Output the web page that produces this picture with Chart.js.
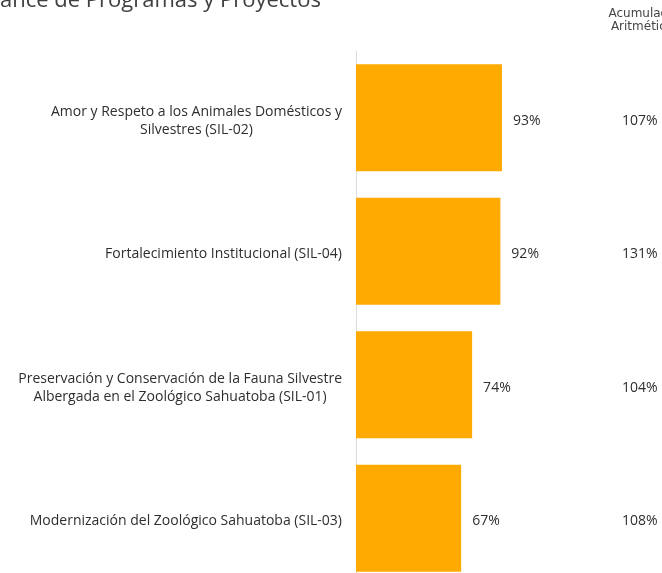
<!DOCTYPE html>
<html>
<head>
<meta charset="utf-8">
<script src="https://cdn.jsdelivr.net/npm/chart.js@4"></script>
<style>
  html, body { margin: 0; padding: 0; background: #fff; overflow: hidden; }
</style>
</head>
<body>
<canvas id="avanceChart" width="662" height="600"></canvas>
<script>
// datos del gráfico
const titulo = "Avance de Programas y Proyectos";
const encabezado = ["Acumulado", "Aritmético"];
const categorias = [
  ["Amor y Respeto a los Animales Domésticos y", "Silvestres (SIL-02)"],
  ["Fortalecimiento Institucional (SIL-04)"],
  ["Preservación y Conservación de la Fauna Silvestre", "Albergada en el Zoológico Sahuatoba (SIL-01)"],
  ["Modernización del Zoológico Sahuatoba (SIL-03)"],
];
const avance = [93, 92, 74, 67];
const acumulado = [107, 131, 104, 108];

const FUENTE = "'Open Sans', sans-serif";
const COLOR_TEXTO = "#2e2e2e";

// textos: título, encabezado, etiquetas y porcentajes
const textos = {
  id: "textos",
  afterDatasetsDraw(chart) {
    const ctx = chart.ctx;
    const yScale = chart.scales.y;
    const meta = chart.getDatasetMeta(0);
    ctx.save();
    ctx.fillStyle = "#404040";

    // título (recortado por el borde como en la imagen)
    ctx.font = "22px " + FUENTE;
    ctx.textAlign = "left";
    ctx.textBaseline = "alphabetic";
    const desplazamiento = ctx.measureText("Av").width;
    ctx.fillText(titulo, -desplazamiento, 7);

    // encabezado de la columna derecha
    ctx.font = "12px 'DejaVu Sans', sans-serif";
    ctx.textAlign = "center";
    ctx.fillStyle = "#444444";
    ctx.fillText(encabezado[0], 642, 17);
    ctx.fillText(encabezado[1], 642, 30);

    ctx.font = "14px " + FUENTE;
    ctx.fillStyle = COLOR_TEXTO;
    ctx.textBaseline = "middle";

    chart.data.labels.forEach((lineas, i) => {
      const yc = yScale.getPixelForValue(i) + 3;

      // etiqueta de categoría: bloque alineado a la derecha, líneas centradas
      const anchoMax = Math.max(...lineas.map((l) => ctx.measureText(l).width));
      const centro = 342 - anchoMax / 2;
      const alto = 18;
      ctx.textAlign = "center";
      lineas.forEach((l, j) => {
        ctx.fillText(l, centro, yc + (j - (lineas.length - 1) / 2) * alto);
      });

      // porcentaje de avance al final de la barra
      const barra = meta.data[i];
      ctx.textAlign = "left";
      ctx.fillText(avance[i] + "%", barra.x + 11, yc);

      // acumulado aritmético
      ctx.fillText(acumulado[i] + "%", 622, yc);
    });
    ctx.restore();
  },
};

const ctx = document.getElementById("avanceChart").getContext("2d");
new Chart(ctx, {
  type: "bar",
  data: {
    labels: categorias,
    datasets: [
      {
        label: "Avance",
        data: avance,
        backgroundColor: "#FFAA00",
        borderWidth: 0,
        barPercentage: 0.8,
        categoryPercentage: 1.0,
      },
    ],
  },
  options: {
    indexAxis: "y",
    responsive: false,
    animation: false,
    layout: { padding: { top: 51, right: 0, bottom: 15, left: 0 } },
    plugins: {
      legend: { display: false },
      tooltip: { enabled: false },
      title: { display: false },
    },
    scales: {
      x: { display: false, min: 0, max: 195 },
      y: {
        ticks: { display: false },
        grid: { display: false },
        border: { display: true, color: "#dcdcdc", width: 1 },
        afterFit: (scale) => {
          scale.width = 356;
        },
      },
    },
  },
  plugins: [textos],
});
</script>
</body>
</html>
